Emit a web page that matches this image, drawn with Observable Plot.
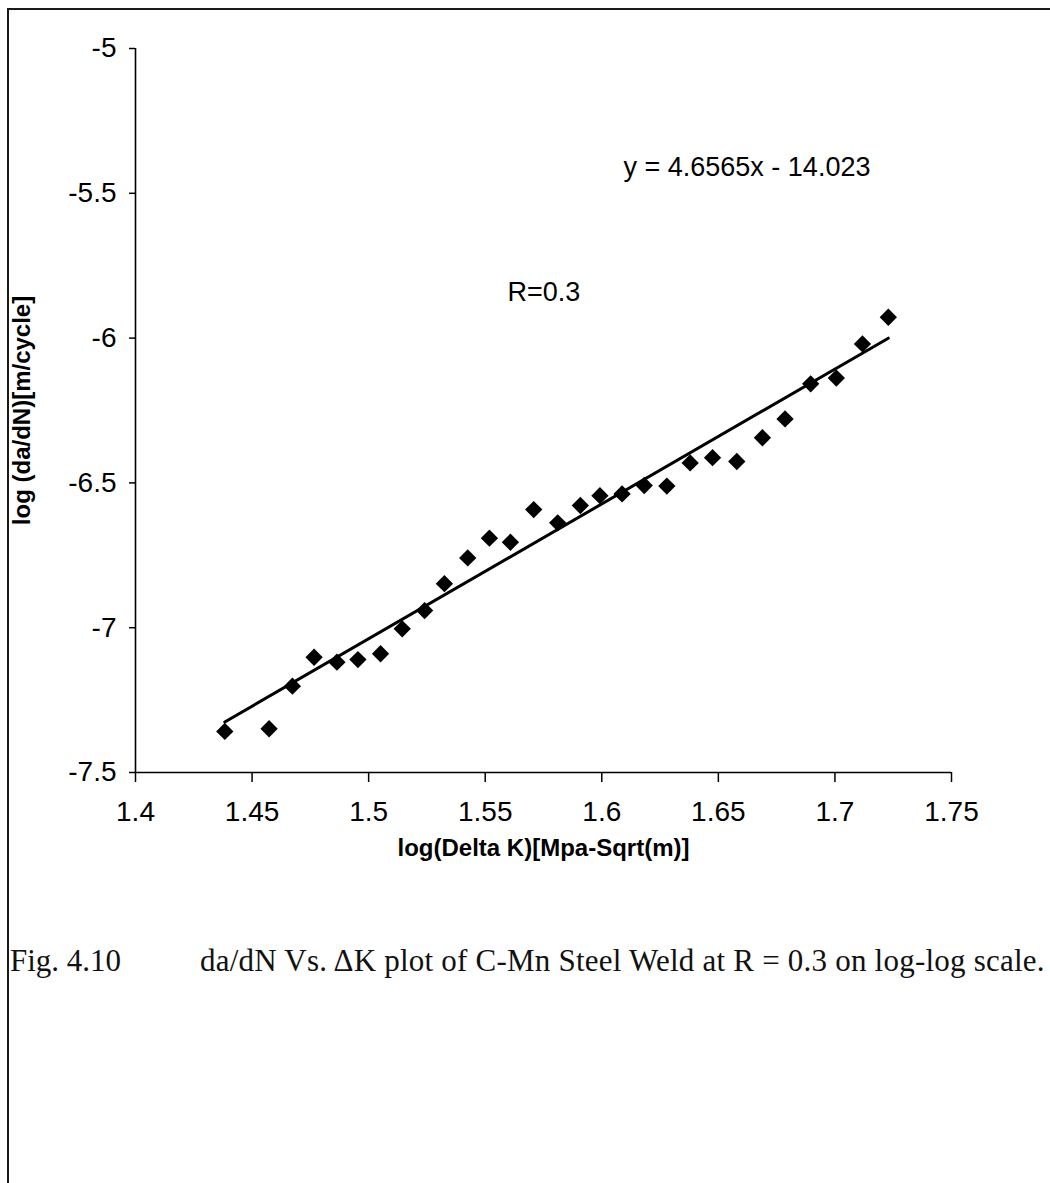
<!DOCTYPE html>
<html><head><meta charset="utf-8">
<script src="https://cdn.jsdelivr.net/npm/d3@7"></script>
<script src="https://cdn.jsdelivr.net/npm/@observablehq/plot@0.6"></script>
<style>
html,body{margin:0;padding:0;background:#fff;}
#page{position:relative;width:1050px;height:1183px;overflow:hidden;background:#fff;}
#chart{position:absolute;left:0;top:0;}
#frame{position:absolute;left:7px;top:8px;right:-10px;bottom:-10px;border-left:2px solid #1a1a1a;border-top:2px solid #1a1a1a;pointer-events:none;}
#caption{position:absolute;left:10px;top:943px;font-family:"Liberation Serif","Times New Roman",serif;font-size:31px;color:#111;white-space:nowrap;}
#caption .fig{position:absolute;left:0;top:0;}
#caption .txt{position:absolute;left:190px;top:0;letter-spacing:0.22px;}
</style></head><body>
<div id="page"><div id="chart"></div><div id="frame"></div>
<div id="caption"><span class="fig"></span><span class="txt"></span></div></div>
<script>
// log(Delta K) values
const logDeltaK = [1.4383,1.4573,1.4673,1.4766,1.4864,1.4954,1.5051,1.5144,1.5240,1.5325,
  1.5425,1.5518,1.5608,1.5708,1.5811,1.5908,1.5992,1.6087,1.6182,1.6279,
  1.6379,1.6475,1.6579,1.6689,1.6786,1.6896,1.7006,1.7118,1.7229];
// log(da/dN) values
const logDadN = [-7.358,-7.349,-7.202,-7.102,-7.119,-7.110,-7.090,-7.004,-6.941,-6.848,
  -6.759,-6.691,-6.705,-6.592,-6.638,-6.578,-6.544,-6.538,-6.509,-6.511,
  -6.431,-6.413,-6.426,-6.344,-6.279,-6.158,-6.138,-6.020,-5.928];
const xTicks = [1.4,1.45,1.5,1.55,1.6,1.65,1.7,1.75];
const yTicks = [-7.5,-7,-6.5,-6,-5.5,-5];
const fitSlope = 4.6565;
const fitIntercept = -14.023;
const equationLabel = "y = 4.6565x - 14.023";
const seriesLabel = "R=0.3";
const xTitle = "log(Delta K)[Mpa-Sqrt(m)]";
const yTitle = "log (da/dN)[m/cycle]";
const captionFig = "Fig. 4.10";
const captionText = "da/dN Vs.\u2009\u0394K plot of C-Mn Steel Weld at R = 0.3 on log-log scale.";

const points = logDeltaK.map((x, i) => ({x, y: logDadN[i]}));
const xMin = d3.min(logDeltaK), xMax = d3.max(logDeltaK);
const fitLine = [xMin, xMax].map(x => ({x, y: fitSlope * x + fitIntercept}));
const fmt = d => String(d);
const font = "'Liberation Sans', Arial, sans-serif";

const chart = Plot.plot({
  width: 1050,
  height: 880,
  marginLeft: 135,
  marginRight: 99,
  marginTop: 48,
  marginBottom: 108,
  style: {fontFamily: font, background: "transparent", color: "#000", overflow: "visible"},
  x: {domain: [1.4, 1.75]},
  y: {domain: [-7.5, -5]},
  marks: [
    Plot.axisY({ticks: yTicks, tickFormat: fmt, tickSize: 6, tickPadding: 13, fontSize: 28, label: null, strokeWidth: 1.5}),
    Plot.axisX({ticks: xTicks, tickFormat: fmt, tickSize: 10, tickPadding: 19, fontSize: 28, label: null, strokeWidth: 1.5}),
    Plot.ruleX([1.4], {stroke: "#000", strokeWidth: 1.6}),
    Plot.ruleY([-7.5], {stroke: "#000", strokeWidth: 1.6}),
    Plot.line(fitLine, {x: "x", y: "y", stroke: "#000", strokeWidth: 3}),
    Plot.dot(points, {x: "x", y: "y", symbol: "diamond2", r: 7.8, fill: "#000", stroke: "none"}),
    Plot.text([equationLabel], {frameAnchor: "top-left", dx: 488, dy: 119, text: d => d, textAnchor: "start", lineAnchor: "middle", fontSize: 27, fill: "#000"}),
    Plot.text([seriesLabel], {frameAnchor: "top-left", dx: 372, dy: 244, text: d => d, textAnchor: "start", lineAnchor: "middle", fontSize: 27, fill: "#000"}),
    Plot.text([xTitle], {frameAnchor: "bottom", dy: 76, text: d => d, textAnchor: "middle", lineAnchor: "middle", fontSize: 24, fontWeight: "bold", fill: "#000"}),
    Plot.text([yTitle], {frameAnchor: "left", dx: -113, rotate: -90, text: d => d, textAnchor: "middle", lineAnchor: "middle", fontSize: 24, fontWeight: "bold", fill: "#000"})
  ]
});
document.getElementById("chart").appendChild(chart);
document.querySelector("#caption .fig").textContent = captionFig;
document.querySelector("#caption .txt").textContent = captionText;
</script>
</body></html>
